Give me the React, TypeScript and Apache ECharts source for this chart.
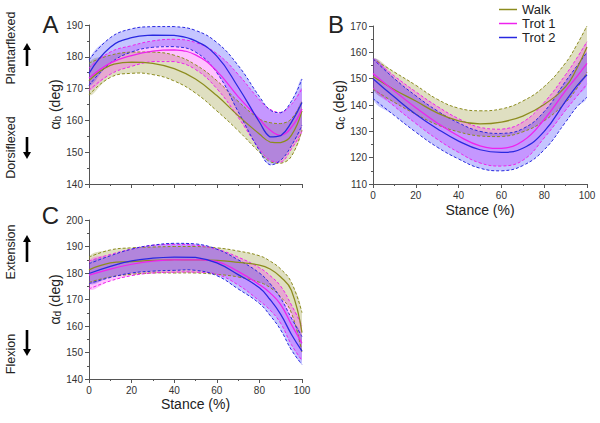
import React, { useEffect, useRef } from 'react';
import * as echarts from 'echarts';

// ---------- Panel A (alpha b) ----------
const xA = [0, 10, 20, 30, 40, 50, 60, 70, 80, 85, 90, 95, 100];
const A_walk_mean = [172.5, 177.3, 178.3, 177.9, 176.3, 173, 167.8, 161.5, 155.7, 153.2, 153, 155.3, 163];
const A_walk_up = [178, 180.5, 181.5, 181.5, 180.5, 177.5, 172.5, 166, 160.5, 159.3, 159, 160.5, 166];
const A_walk_lo = [168, 173.5, 174.8, 174.4, 172.4, 168.6, 163, 156.8, 150, 147, 146.5, 148.7, 157];
const A_trot1_mean = [173.3, 178, 180.4, 181.8, 182.2, 180.6, 175.5, 167.5, 160.4, 157, 155.3, 157.8, 163.6];
const A_trot1_up = [176.5, 181.5, 183.5, 185, 185.5, 184.5, 181, 174.5, 166.5, 163.5, 162.5, 165, 170];
const A_trot1_lo = [169.5, 174.5, 177, 178.5, 178.5, 176, 170, 161, 151, 147.5, 146.8, 151, 156.5];
const A_trot2_mean = [174.8, 183, 186, 186.8, 186.7, 185, 180.2, 170.5, 159.5, 154.8, 155.2, 159.4, 165.6];
const A_trot2_up = [179, 186, 188.8, 189.5, 189.5, 188.3, 184.5, 177.3, 167.5, 163.3, 162.4, 166, 173];
const A_trot2_lo = [171, 178, 181.5, 183, 183.2, 181.5, 175, 162.8, 150.5, 146, 147.5, 152, 158.5];

// ---------- Panel B (alpha c) ----------
const xB = [0, 10, 20, 30, 40, 50, 60, 70, 80, 90, 95, 100];
const B_walk_mean = [150.8, 145.8, 141.5, 137, 134, 132.8, 133.5, 135.8, 140.2, 147, 153.5, 162];
const B_walk_up = [157.5, 152.5, 147.5, 142.2, 138.8, 137.8, 138.5, 141.5, 147, 156, 162.5, 170];
const B_walk_lo = [146, 141, 136.5, 132.5, 129.8, 128.2, 128, 129.8, 134, 141, 146, 152.5];
const B_trot1_mean = [152, 145.3, 139, 133.2, 128.2, 124.5, 123.5, 126.3, 134.5, 145.5, 150.5, 155.8];
const B_trot1_up = [157.5, 151, 145, 139.5, 134.8, 131.5, 130.8, 133.5, 141, 151.5, 157.5, 164];
const B_trot1_lo = [146.5, 139.5, 133, 127, 122, 118, 116.8, 119, 127.5, 138, 143, 148];
const B_trot2_mean = [150, 143, 136.5, 131, 126.3, 123, 122, 123.6, 130, 141.5, 147, 151.5];
const B_trot2_up = [157.5, 150, 143.5, 137.8, 133.2, 130, 129.2, 131, 137.5, 149, 154.5, 160];
const B_trot2_lo = [142.5, 136, 129.7, 124, 119.5, 116, 115, 117, 123, 133.5, 139, 143];

// ---------- Panel C (alpha d) ----------
const xC = [0, 10, 20, 30, 40, 50, 60, 70, 80, 85, 90, 95, 100];
const C_walk_mean = [181.2, 183.8, 184.3, 184.8, 185, 185, 184.8, 184, 183, 181.5, 178.5, 173.5, 157.5];
const C_walk_up = [186, 188.7, 189.5, 189.8, 190, 190, 189.5, 188.3, 186.5, 184.5, 181.5, 176.5, 165];
const C_walk_lo = [176.5, 178.5, 179.5, 180, 180, 180, 179.5, 178.5, 176.5, 174.5, 171, 165, 150];
const C_trot1_mean = [179.2, 181.5, 183.3, 184.5, 185, 185, 184.4, 180.6, 175.6, 172.5, 168.1, 160.6, 153.5];
const C_trot1_up = [184.5, 187, 189, 190.5, 190.8, 190.5, 189, 186, 182, 179, 175, 168, 160];
const C_trot1_lo = [174, 177, 179, 180, 180.3, 180.3, 179.5, 175.5, 169.5, 166, 161, 153, 147];
const C_trot2_mean = [179.8, 182.5, 184.6, 185.6, 186, 185.9, 183.8, 179.4, 174.4, 170, 164.4, 156.9, 150.5];
const C_trot2_up = [183.5, 186.5, 189, 190.5, 191.2, 191, 189, 185, 180, 176, 170.5, 163, 156];
const C_trot2_lo = [176, 178.3, 180, 180.7, 181, 181, 179, 174, 168.5, 164, 158.5, 151, 145.5];

const groupNames = ['Walk', 'Trot 1', 'Trot 2'];
const lineColors = ['#8c8c1e', '#ee22ee', '#2828e0'];
const fillColors = ['rgba(150,150,50,0.3)', 'rgba(255,0,255,0.24)', 'rgba(30,30,255,0.26)'];

const yRanges = [[140, 190], [110, 170], [140, 200]];
const yNames = ['α{s|b} (deg)', 'α{s|c} (deg)', 'α{s|d} (deg)'];

const FONT = 'Liberation Sans, Arial, sans-serif';
const SM = 0.45;

export default function App() {
  const ref = useRef<HTMLDivElement>(null);
  useEffect(() => {
    if (!ref.current) return;
    const chart = echarts.init(ref.current, undefined, { renderer: 'svg' });

    const panels = [
      { x: xA, sets: [[A_walk_lo, A_walk_mean, A_walk_up], [A_trot1_lo, A_trot1_mean, A_trot1_up], [A_trot2_lo, A_trot2_mean, A_trot2_up]] },
      { x: xB, sets: [[B_walk_lo, B_walk_mean, B_walk_up], [B_trot1_lo, B_trot1_mean, B_trot1_up], [B_trot2_lo, B_trot2_mean, B_trot2_up]] },
      { x: xC, sets: [[C_walk_lo, C_walk_mean, C_walk_up], [C_trot1_lo, C_trot1_mean, C_trot1_up], [C_trot2_lo, C_trot2_mean, C_trot2_up]] },
    ];

    const series: any[] = [];
    panels.forEach((p, pi) => {
      p.sets.forEach((s, gi) => {
        const [lo, mean, up] = s;
        const data = p.x.map((x, i) => [x, lo[i], mean[i], up[i]]);
        series.push({
          type: 'custom', name: `band${pi}_${gi}`, xAxisIndex: pi, yAxisIndex: pi, silent: true, z: 1,
          data, encode: { x: 0, y: [1, 3] },
          renderItem: (params: any, api: any) => {
            if (params.dataIndex !== 0) return null;
            const ups = p.x.map((x, i) => api.coord([x, up[i]]));
            const los = p.x.map((x, i) => api.coord([x, lo[i]]));
            const c = [ups[0], ups[0]];
            return {
              type: 'polygon',
              shape: { points: ups.concat(los.slice().reverse()), smooth: SM, smoothConstraint: c },
              style: { fill: fillColors[gi], stroke: 'none' },
            };
          },
        });
      });
      p.sets.forEach((s, gi) => {
        const [lo, mean, up] = s;
        const data = p.x.map((x, i) => [x, lo[i], mean[i], up[i]]);
        series.push({
          type: 'custom', name: `lines${pi}_${gi}`, xAxisIndex: pi, yAxisIndex: pi, silent: true, z: 2,
          data, encode: { x: 0, y: [1, 3] },
          renderItem: (params: any, api: any) => {
            if (params.dataIndex !== 0) return null;
            const ups = p.x.map((x, i) => api.coord([x, up[i]]));
            const los = p.x.map((x, i) => api.coord([x, lo[i]]));
            const c = [ups[0], ups[0]];
            return {
              type: 'group',
              children: [ups, los].map((pts) => ({
                type: 'polyline',
                shape: { points: pts, smooth: SM, smoothConstraint: c },
                style: { stroke: lineColors[gi], lineWidth: 1, lineDash: [3, 2], fill: 'none' },
              })),
            };
          },
        });
      });
      p.sets.forEach((s, gi) => {
        const [lo, mean, up] = s;
        const data = p.x.map((x, i) => [x, lo[i], mean[i], up[i]]);
        series.push({
          type: 'custom', name: `mean${pi}_${gi}`, xAxisIndex: pi, yAxisIndex: pi, silent: true, z: 3,
          data, encode: { x: 0, y: [1, 3] },
          renderItem: (params: any, api: any) => {
            if (params.dataIndex !== 0) return null;
            const pts = p.x.map((x, i) => api.coord([x, mean[i]]));
            return {
              type: 'polyline',
              shape: { points: pts, smooth: SM, smoothConstraint: [pts[0], pts[0]] },
              style: { stroke: lineColors[gi], lineWidth: 1.25, fill: 'none' },
            };
          },
        });
      });
    });

    groupNames.forEach((n, gi) => {
      series.push({
        type: 'line', name: n, xAxisIndex: 0, yAxisIndex: 0, data: [], symbol: 'none',
        color: lineColors[gi], lineStyle: { color: lineColors[gi], width: 1.3 },
      });
    });

    const grids = [
      { left: 89, top: 25, width: 213, height: 159 },
      { left: 373, top: 26, width: 214, height: 158 },
      { left: 89, top: 220, width: 213, height: 159 },
    ];

    const axisCommon = {
      axisLine: { show: true, lineStyle: { color: '#555', width: 1 } },
      axisTick: { show: true, length: 4, lineStyle: { color: '#555' } },
      minorTick: { show: true, splitNumber: 2, length: 2, lineStyle: { color: '#555' } },
      splitLine: { show: false },
    };

    const xAxes = [0, 1, 2].map((i) => ({
      type: 'value', gridIndex: i, min: 0, max: 100, interval: 20,
      ...axisCommon,
      axisLabel: { show: i !== 0, fontSize: 10, color: '#333', fontFamily: FONT, margin: 6 },
      name: i === 0 ? '' : 'Stance (%)',
      nameLocation: 'middle',
      nameGap: i === 1 ? 19 : 18,
      nameTextStyle: { fontSize: 14, color: '#222', fontFamily: FONT, verticalAlign: 'top' },
    }));

    const yAxes = [0, 1, 2].map((i) => ({
      type: 'value', gridIndex: i, min: yRanges[i][0], max: yRanges[i][1], interval: 10,
      ...axisCommon,
      axisLabel: { fontSize: 10, color: '#333', fontFamily: FONT, margin: 6 },
      name: yNames[i],
      nameLocation: 'middle',
      nameGap: 22,
      nameRotate: 90,
      nameTextStyle: {
        fontSize: 14, color: '#222', fontFamily: FONT,
        rich: { s: { fontSize: 10, color: '#222', fontFamily: FONT, verticalAlign: 'bottom' } },
      },
    }));

    const txt = (text: string, x: number, y: number, size: number, rot = 0) => ({
      type: 'text', x, y, rotation: rot,
      style: { text, fontSize: size, fill: '#222', fontFamily: FONT, align: 'center', verticalAlign: 'middle' },
    });
    const arrow = (cx: number, y0: number, y1: number, up: boolean) => {
      const headH = 7, headW = 4;
      const tipY = up ? y0 : y1;
      const baseY = up ? y0 + headH : y1 - headH;
      const shaftTop = up ? baseY : y0;
      const shaftBot = up ? y1 : baseY;
      return {
        type: 'group',
        children: [
          { type: 'rect', shape: { x: cx - 1.3, y: shaftTop, width: 2.6, height: shaftBot - shaftTop }, style: { fill: '#000' } },
          { type: 'polygon', shape: { points: [[cx - headW, baseY], [cx + headW, baseY], [cx, tipY]] }, style: { fill: '#000' } },
        ],
      };
    };

    const graphic = [
      txt('A', 50.5, 24, 24),
      txt('B', 336, 24, 24),
      txt('C', 50.5, 215, 24),
      txt('Plantarflexed', 11, 48, 12.5, Math.PI / 2),
      txt('Dorsiflexed', 11, 147.5, 12.5, Math.PI / 2),
      txt('Extension', 11, 252, 12.5, Math.PI / 2),
      txt('Flexion', 11, 354, 12.5, Math.PI / 2),
      arrow(27, 43, 66, true),
      arrow(27, 137, 159, false),
      arrow(27, 235, 262, true),
      arrow(27, 330, 356, false),
    ];

    chart.setOption({
      animation: false,
      backgroundColor: '#fff',
      grid: grids,
      xAxis: xAxes,
      yAxis: yAxes,
      legend: {
        data: groupNames.map((n) => ({ name: n, icon: 'rect' })),
        orient: 'vertical',
        left: 499,
        top: 3,
        padding: 0,
        itemGap: 1,
        itemWidth: 18,
        itemHeight: 1.5,
        selectedMode: false,
        textStyle: { fontSize: 13, lineHeight: 13, color: '#222', fontFamily: FONT },
      },
      graphic,
      series,
    });
    return () => chart.dispose();
  }, []);
  return <div ref={ref} style={{ position: 'fixed', left: 0, top: 0, width: 600, height: 423, background: '#fff' }} />;
}
